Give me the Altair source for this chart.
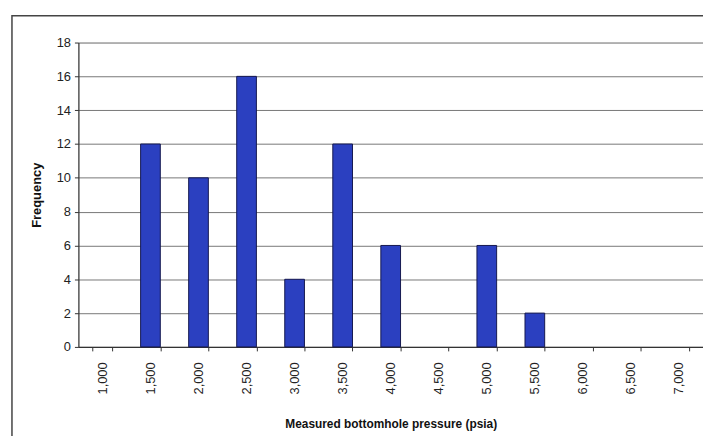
import altair as alt
import pandas as pd

pressure_labels = ["1,000", "1,500", "2,000", "2,500", "3,000", "3,500", "4,000",
                   "4,500", "5,000", "5,500", "6,000", "6,500", "7,000"]
frequency = [0, 12, 10, 16, 4, 12, 6, 0, 6, 2, 0, 0, 0]

df = pd.DataFrame({"pressure": pressure_labels, "freq": frequency})

FONT = "Liberation Sans"
W, H = 630, 307

bars = alt.Chart(df).mark_bar(
    color="#2b40c0", stroke="#15184f", strokeWidth=1
).encode(
    x=alt.X("pressure:N", sort=pressure_labels,
            scale=alt.Scale(domain=pressure_labels, paddingInner=0.59, paddingOuter=0.295),
            axis=alt.Axis(title="Measured bottomhole pressure (psia)",
                          labelAngle=-90, labelFontSize=13, labelFont=FONT,
                          labelColor="#222", labelPadding=11,
                          tickBand="extent", tickSize=4, tickColor="#333",
                          domainColor="#333", domainWidth=1.2,
                          titleFont=FONT, titleFontSize=12, titleFontWeight="bold",
                          titleColor="#111", titlePadding=25, grid=False)),
    y=alt.Y("freq:Q", scale=alt.Scale(domain=[0, 18], nice=False),
            axis=alt.Axis(title="Frequency", values=list(range(0, 19, 2)),
                          labelFontSize=13, labelFont=FONT, labelColor="#222",
                          labelPadding=4, tickSize=4, tickColor="#333",
                          domainColor="#333", domainWidth=1.2,
                          gridColor="#777", gridWidth=1,
                          titleFont=FONT, titleFontSize=13, titleFontWeight="bold",
                          titleColor="#111", titlePadding=13)),
).transform_filter("datum.freq > 0")

frame = alt.Chart(pd.DataFrame({"a": [0]})).mark_rect(
    fill=None, stroke="#444", strokeWidth=1.5
).encode(
    x=alt.value(-67), x2=alt.value(632), y=alt.value(-27), y2=alt.value(420)
)

chart = alt.layer(frame, bars).properties(
    width=W, height=H,
    autosize=alt.AutoSizeParams(type="none"),
    padding={"left": 71, "top": 33, "right": 0, "bottom": 88},
).configure_view(stroke=None).configure(background="white")

chart.save("out.html", embed_options={"renderer": "svg", "actions": False})
